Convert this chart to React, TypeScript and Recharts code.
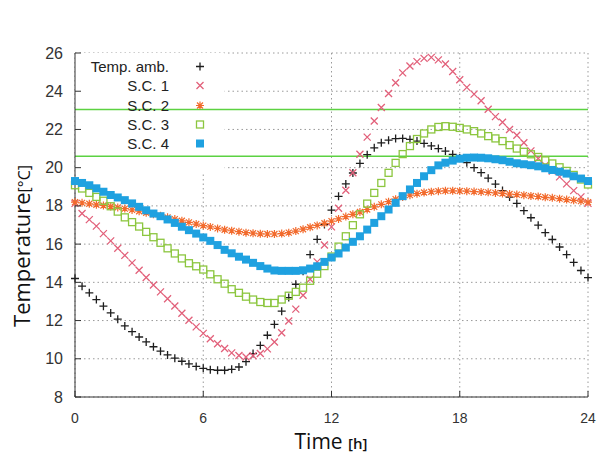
import React from 'react'
import {
  ScatterChart,
  Scatter,
  XAxis,
  YAxis,
  CartesianGrid,
  ReferenceLine,
  ReferenceArea,
  Legend,
} from 'recharts'

// sample times, every 20 min
const HOURS = [
  0, 0.33, 0.67, 1, 1.33, 1.67, 2, 2.33, 2.67, 3, 3.33, 3.67,
  4, 4.33, 4.67, 5, 5.33, 5.67, 6, 6.33, 6.67, 7, 7.33, 7.67,
  8, 8.33, 8.67, 9, 9.33, 9.67, 10, 10.33, 10.67, 11, 11.33, 11.67,
  12, 12.33, 12.67, 13, 13.33, 13.67, 14, 14.33, 14.67, 15, 15.33, 15.67,
  16, 16.33, 16.67, 17, 17.33, 17.67, 18, 18.33, 18.67, 19, 19.33, 19.67,
  20, 20.33, 20.67, 21, 21.33, 21.67, 22, 22.33, 22.67, 23, 23.33, 23.67,
  24,
]

const TEMP_AMB = [
  14.2, 13.8, 13.45, 13.1, 12.75, 12.4, 12.07, 11.72, 11.42, 11.14, 10.88, 10.63,
  10.4, 10.2, 10.03, 9.87, 9.73, 9.6, 9.5, 9.43, 9.4, 9.4, 9.45, 9.57,
  9.85, 10.27, 10.7, 11.23, 11.8, 12.49, 13.2, 13.9, 14.58, 15.45, 16.25, 17.02,
  17.78, 18.5, 19.15, 19.72, 20.22, 20.68, 21.04, 21.3, 21.44, 21.52, 21.53, 21.48,
  21.39, 21.27, 21.14, 21.0, 20.87, 20.7, 20.5, 20.26, 20.0, 19.74, 19.45, 19.14,
  18.8, 18.46, 18.13, 17.75, 17.38, 16.99, 16.6, 16.24, 15.85, 15.45, 15.04, 14.62,
  14.25,
]

const SC1 = [
  18.13, 17.6, 17.28, 16.94, 16.55, 16.17, 15.78, 15.41, 15.02, 14.63, 14.25, 13.86,
  13.5, 13.14, 12.76, 12.38, 12.02, 11.67, 11.33, 11.05, 10.79, 10.54, 10.31, 10.17,
  10.09, 10.16, 10.28, 10.52, 10.88, 11.36, 11.98, 12.6, 13.32, 14.16, 15.07, 15.95,
  16.9, 17.88, 18.82, 19.73, 20.7, 21.6, 22.44, 23.15, 23.88, 24.44, 24.96, 25.32,
  25.55, 25.72, 25.77, 25.64, 25.42, 25.03, 24.6, 24.2, 23.85, 23.5, 23.06, 22.67,
  22.38, 22.0, 21.7, 21.3, 20.88, 20.48, 20.13, 19.82, 19.52, 19.15, 18.8, 18.47,
  18.13,
]

const SC2 = [
  18.2, 18.16, 18.11, 18.06, 18.02, 17.97, 17.92, 17.86, 17.79, 17.72, 17.64, 17.56,
  17.48, 17.4, 17.31, 17.22, 17.14, 17.05, 16.97, 16.9, 16.82, 16.75, 16.7, 16.65,
  16.6, 16.57, 16.54, 16.53, 16.53, 16.55, 16.6, 16.68, 16.78, 16.88, 16.98, 17.09,
  17.2, 17.32, 17.44, 17.56, 17.68, 17.81, 17.95, 18.08, 18.22, 18.35, 18.46, 18.56,
  18.64, 18.7, 18.74, 18.77, 18.79, 18.79, 18.78, 18.77, 18.75, 18.73, 18.71, 18.68,
  18.65, 18.62, 18.59, 18.56, 18.52, 18.49, 18.45, 18.42, 18.38, 18.33, 18.29, 18.25,
  18.2,
]

const SC3 = [
  19.08, 18.91, 18.68, 18.47, 18.27, 17.98, 17.7, 17.4, 17.15, 16.92, 16.64, 16.36,
  16.07, 15.78, 15.51, 15.25, 15.0, 14.84, 14.67, 14.42, 14.16, 13.93, 13.64, 13.45,
  13.25, 13.1, 12.97, 12.92, 12.92, 13.1, 13.3, 13.5, 13.72, 14.08, 14.45, 14.85,
  15.35, 15.87, 16.41, 16.99, 17.56, 18.12, 18.68, 19.2, 19.73, 20.25, 20.71, 21.13,
  21.5, 21.79, 22.0, 22.13, 22.17, 22.14, 22.08, 22.0, 21.91, 21.79, 21.65, 21.53,
  21.39, 21.18, 21.0, 20.83, 20.7, 20.56, 20.38, 20.22, 20.02, 19.83, 19.62, 19.38,
  19.12,
]

const SC4 = [
  19.3, 19.2, 19.08, 18.92, 18.74, 18.57, 18.44, 18.3, 18.13, 17.95, 17.77, 17.6,
  17.46, 17.29, 17.11, 16.91, 16.73, 16.55, 16.35, 16.17, 15.95, 15.7, 15.52, 15.34,
  15.19, 15.02, 14.85, 14.72, 14.62, 14.6, 14.6, 14.6, 14.63, 14.72, 14.84, 15.07,
  15.3, 15.51, 15.82, 16.12, 16.41, 16.76, 17.11, 17.46, 17.81, 18.16, 18.51, 18.86,
  19.2, 19.55, 19.87, 20.12, 20.26, 20.37, 20.47, 20.52, 20.53, 20.52, 20.49, 20.44,
  20.39, 20.31, 20.23, 20.18, 20.13, 20.07, 19.97, 19.88, 19.79, 19.69, 19.55, 19.43,
  19.3,
]

const COMFORT_LIMITS = [23.05, 20.6]
const X_TICKS = [0, 6, 12, 18, 24]
const Y_TICKS = [8, 10, 12, 14, 16, 18, 20, 22, 24, 26]

const toPoints = (vals: number[]) => HOURS.map((h, i) => ({ h, v: vals[i] }))

const AXIS = '#333'
const TICK_FONT = '"Liberation Sans", Arial, sans-serif'
const LABEL_FONT = '"Open Sans", "Noto Sans", sans-serif'

type Pt = { cx?: number; cy?: number }

const Plus = ({ cx = 0, cy = 0 }: Pt) => (
  <path d={`M${cx - 4},${cy}H${cx + 4}M${cx},${cy - 4}V${cy + 4}`} stroke="#1e1e1e" strokeWidth={1.3} fill="none" />
)
const Cross = ({ cx = 0, cy = 0 }: Pt) => (
  <path
    d={`M${cx - 3.5},${cy - 3.5}L${cx + 3.5},${cy + 3.5}M${cx - 3.5},${cy + 3.5}L${cx + 3.5},${cy - 3.5}`}
    stroke="#e2607a"
    strokeWidth={1.3}
    fill="none"
  />
)
const Star = ({ cx = 0, cy = 0 }: Pt) => (
  <path
    d={`M${cx - 4},${cy}H${cx + 4}M${cx},${cy - 4}V${cy + 4}M${cx - 3},${cy - 3}L${cx + 3},${cy + 3}M${cx - 3},${cy + 3}L${cx + 3},${cy - 3}`}
    stroke="#f26a2c"
    strokeWidth={1.2}
    fill="none"
  />
)
const OpenSquare = ({ cx = 0, cy = 0 }: Pt) => (
  <rect x={cx - 3.5} y={cy - 3.5} width={7} height={7} fill="none" stroke="#8cc63f" strokeWidth={1.3} />
)
const FilledSquare = ({ cx = 0, cy = 0 }: Pt) => (
  <rect x={cx - 4} y={cy - 4} width={8} height={8} fill="#1fa1e0" />
)

const SERIES = [
  { name: 'Temp. amb.', data: TEMP_AMB, Shape: Plus },
  { name: 'S.C. 1', data: SC1, Shape: Cross },
  { name: 'S.C. 2', data: SC2, Shape: Star },
  { name: 'S.C. 3', data: SC3, Shape: OpenSquare },
  { name: 'S.C. 4', data: SC4, Shape: FilledSquare },
]

// gnuplot style: ticks point into the plot, labels outside
const BottomTick = ({ x, y, payload }: any) => (
  <g>
    <line x1={x} y1={y} x2={x} y2={y - 6} stroke={AXIS} />
    <text x={x} y={y + 26} textAnchor="middle" fontSize={14} fontFamily={TICK_FONT} fill="#333">
      {payload.value}
    </text>
  </g>
)
const TopTick = ({ x, y }: any) => <line x1={x} y1={y} x2={x} y2={y + 6} stroke={AXIS} />
const LeftTick = ({ x, y, payload }: any) => (
  <g>
    <line x1={x} y1={y} x2={x + 6} y2={y} stroke={AXIS} />
    <text x={x - 12} y={y + 5.5} textAnchor="end" fontSize={16} fontFamily={TICK_FONT} fill="#333">
      {payload.value}
    </text>
  </g>
)
const RightTick = ({ x, y }: any) => <line x1={x} y1={y} x2={x - 6} y2={y} stroke={AXIS} />

const LegendBox = () => (
  <div style={{ fontFamily: TICK_FONT, fontSize: 15, color: '#222' }}>
    {SERIES.map(({ name, Shape }) => (
      <div key={name} style={{ display: 'flex', alignItems: 'center', height: 19.3 }}>
        <div style={{ width: 94, textAlign: 'right', lineHeight: '19.3px' }}>{name}</div>
        <svg width={62} height={19} style={{ display: 'block' }}>
          <Shape cx={31} cy={9.5} />
        </svg>
      </div>
    ))}
  </div>
)

export default function App() {
  return (
    <div style={{ position: 'absolute', left: 0, top: 0, width: 598, height: 456, background: '#fff' }}>
      <ScatterChart width={598} height={456} margin={{ top: 53, right: 10, bottom: 0, left: 0 }}>
        <CartesianGrid stroke="#9a9a9a" strokeDasharray="1.5 3" />
        {/* the legend box hides the grid behind it */}
        <ReferenceArea x1={0} x2={7} y1={19.75} y2={26} fill="#fff" fillOpacity={1} stroke="none" />
        <XAxis
          dataKey="h"
          type="number"
          domain={[0, 24]}
          ticks={X_TICKS}
          height={59}
          tickSize={0}
          tickMargin={0}
          tickLine={false}
          axisLine={{ stroke: AXIS }}
          tick={<BottomTick />}
          label={{
            content: () => (
              <text x={331} y={449} textAnchor="middle" fontFamily={LABEL_FONT} fill="#111">
                <tspan fontSize={21}>Time </tspan>
                <tspan fontSize={15} fontWeight={600}>[h]</tspan>
              </text>
            ),
          }}
        />
        <XAxis
          xAxisId="top"
          orientation="top"
          type="number"
          domain={[0, 24]}
          allowDataOverflow
          ticks={X_TICKS}
          height={0}
          tickSize={0}
          tickMargin={0}
          tickLine={false}
          axisLine={{ stroke: AXIS }}
          tick={<TopTick />}
          label={{
            content: () => (
              <text x={324} y={26} textAnchor="middle" fontSize={20} fontFamily={LABEL_FONT} fill="#111">
                January
              </text>
            ),
          }}
        />
        <YAxis
          dataKey="v"
          type="number"
          domain={[8, 26]}
          ticks={Y_TICKS}
          width={75}
          tickSize={0}
          tickMargin={0}
          tickLine={false}
          axisLine={{ stroke: AXIS }}
          tick={<LeftTick />}
          label={{
            content: () => (
              <text x={30} y={246} transform="rotate(-90, 30, 246)" textAnchor="middle" fontFamily={LABEL_FONT} fill="#111">
                <tspan fontSize={22}>Temperature</tspan>
                <tspan fontSize={16}>[°C]</tspan>
              </text>
            ),
          }}
        />
        <YAxis
          yAxisId="right"
          orientation="right"
          type="number"
          domain={[8, 26]}
          allowDataOverflow
          ticks={Y_TICKS}
          width={0}
          tickSize={0}
          tickMargin={0}
          tickLine={false}
          axisLine={{ stroke: AXIS }}
          tick={<RightTick />}
        />
        {COMFORT_LIMITS.map((y) => (
          <ReferenceLine key={y} y={y} stroke="#5cd242" strokeWidth={1.5} />
        ))}
        {SERIES.map(({ name, data, Shape }) => (
          <Scatter key={name} name={name} data={toPoints(data)} shape={(p: any) => <Shape cx={p.cx} cy={p.cy} />} isAnimationActive={false} />
        ))}
        <Legend
          layout="vertical"
          align="center"
          verticalAlign="middle"
          wrapperStyle={{ left: 75, top: 57, width: 160, height: 100 }}
          content={<LegendBox />}
        />
      </ScatterChart>
    </div>
  )
}
